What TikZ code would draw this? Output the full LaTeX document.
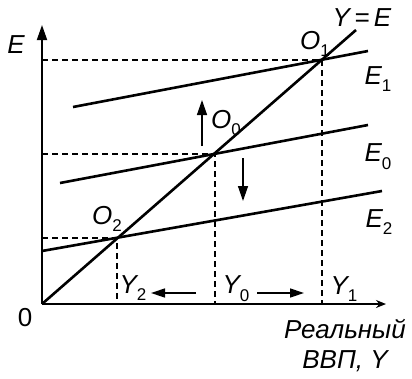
\documentclass[tikz,border=0pt]{standalone}
\usepackage{fontspec}
\setmainfont{Liberation Sans}
\usetikzlibrary{arrows.meta}
\newcommand\sbs[1]{\raisebox{-0.3em}{\fontsize{17}{17}\selectfont\upshape #1}}
\begin{document}
\begin{tikzpicture}[x=1pt,y=-1pt,
  lbl/.style={font=\fontsize{26}{30}\selectfont\itshape, inner sep=0pt},
  axis/.style={line width=1.8pt},
  curve/.style={line width=2.6pt},
  guide/.style={line width=1.1pt, dash pattern=on 6pt off 4pt},
  mv/.style={-{Triangle[length=15pt,width=10pt]}, line width=1.4pt},
  hmv/.style={-{Triangle[length=14pt,width=9pt]}, line width=1.4pt}]
\useasboundingbox (0,0) rectangle (412,378);
% key points
\coordinate (O) at (42,304);
\coordinate (ytop) at (42,25);
\coordinate (xend) at (386,304);
\coordinate (o1) at (322,60);
\coordinate (o0) at (215,154);
\coordinate (o2) at (117,238);
\coordinate (ye) at (356,30);
\coordinate (e1a) at (73,107);
\coordinate (e1b) at (368,51);
\coordinate (e0a) at (60,183);
\coordinate (e0b) at (368,125);
\coordinate (e2a) at (42,251);
\coordinate (e2b) at (382,191);
\coordinate (x1) at (322,304);
\coordinate (x0) at (215,304);
\coordinate (x2) at (117,304);
\coordinate (h1) at (42,60);
\coordinate (h0) at (42,154);
\coordinate (h2) at (42,238);
% guides
\draw[guide] (h1) -- (o1) -- (x1);
\draw[guide] (h0) -- (o0) -- (x0);
\draw[guide] (h2) -- (o2) -- (x2);
% axes
\draw[axis,-{Triangle[length=15pt,width=10pt]}] (O) -- (ytop);
\draw[axis,-{Stealth[length=10pt,width=8pt]}] (O) -- (xend);
% lines
\draw[curve] (O) -- (ye);
\draw[curve] (e1a) -- (e1b);
\draw[curve] (e0a) -- (e0b);
\draw[curve] (e2a) -- (e2b);
% shift arrows
\coordinate (ua) at (202,146);
\coordinate (ub) at (202,100);
\coordinate (da) at (243,158);
\coordinate (db) at (243,201);
\coordinate (la) at (196,293);
\coordinate (lb) at (151,293);
\coordinate (ra) at (257,293);
\coordinate (rb) at (304,293);
\draw[mv] (ua) -- (ub);
\draw[mv] (da) -- (db);
\draw[hmv] (la) -- (lb);
\draw[hmv] (ra) -- (rb);
% labels
\node[lbl] (lE) at (16,45) {E};
\node[lbl] (lYE) at (362,18) {Y\,=\,E};
\node[lbl] (lO1) at (315,44) {O\sbs{1}};
\node[lbl] (lO0) at (226,123) {O\sbs{0}};
\node[lbl] (lO2) at (107,219) {O\sbs{2}};
\node[lbl] (lE1) at (378,79) {E\sbs{1}};
\node[lbl] (lE0) at (378,157) {E\sbs{0}};
\node[lbl] (lE2) at (379,222) {E\sbs{2}};
\node[lbl] (lY2) at (133,288) {Y\sbs{2}};
\node[lbl] (lY0) at (236,289) {Y\sbs{0}};
\node[lbl] (lY1) at (344,289) {Y\sbs{1}};
\node[lbl,font=\fontsize{26}{30}\selectfont] (l0) at (25,318) {0};
\node[lbl,align=center] (lX) at (345,346) {Реальный\\ВВП, Y};
\end{tikzpicture}
\end{document}
